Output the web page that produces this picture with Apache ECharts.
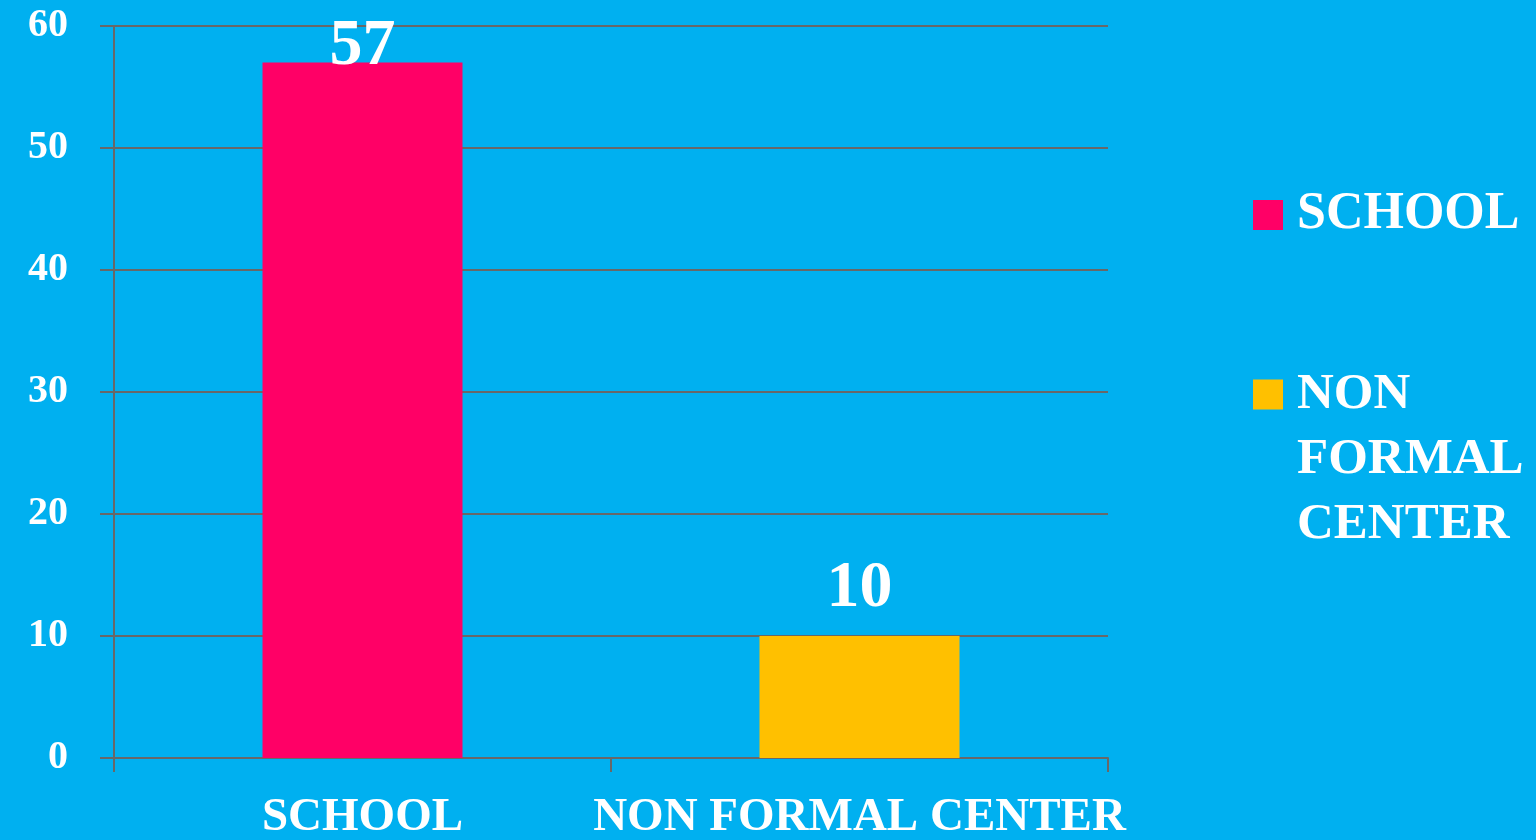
<!DOCTYPE html>
<html>
<head>
<meta charset="utf-8">
<script src="https://cdn.jsdelivr.net/npm/echarts@6/dist/echarts.min.js"></script>
<style>
    html, body { margin: 0; padding: 0; background: #00b0f0; }
    #chart { width: 1536px; height: 840px; }
</style>
</head>
<body>
<div id="chart"></div>
<script>
// categories on the x axis
const categories = ['SCHOOL', 'NON FORMAL CENTER'];
// one series per category, same names as the legend
const seriesNames = ['SCHOOL', 'NON FORMAL CENTER'];
const values = [57, 10];
const colors = ['#ff0066', '#ffc000'];
// y axis ticks
const yMin = 0;
const yMax = 60;
const yStep = 10;

const font = '"Liberation Serif", "DejaVu Serif", serif';
const axisGray = '#686868';

// each bar is its own series, empty in the other category
const series = seriesNames.map((name, i) => ({
    name: name,
    type: 'bar',
    barWidth: 200,
    barGap: '-100%',
    itemStyle: { color: colors[i] },
    data: categories.map((c, j) => (j === i ? values[i] : '-')),
    label: {
        show: true,
        position: 'top',
        distance: i === 0 ? -17 : 14,
        color: '#fff',
        fontFamily: font,
        fontWeight: 'bold',
        fontSize: 66
    }
}));

const legendText = {
    color: '#fff',
    fontFamily: font,
    fontWeight: 'bold',
    fontSize: 51,
    lineHeight: 65,
    padding: [0, 0, 0, 9]
};

// square at the top of a taller box, so it lines up with the first text line
const tallSquare = 'path://M0,0h30v30h-30z M0,159.99 L0.01,160';

const option = {
    backgroundColor: '#00b0f0',
    animation: false,
    grid: {
        left: 114,
        right: 428,
        top: 26,
        bottom: 82,
        outerBoundsMode: 'none'
    },
    legend: [
        {
            data: [seriesNames[0]],
            orient: 'vertical',
            left: 1253,
            top: 183,
            padding: 0,
            icon: 'rect',
            itemWidth: 30,
            itemHeight: 30,
            selectedMode: false,
            textStyle: Object.assign({}, legendText, { fontSize: 52, lineHeight: 64 })
        },
        {
            data: [seriesNames[1]],
            orient: 'vertical',
            left: 1253,
            top: 362,
            padding: 0,
            icon: tallSquare,
            itemWidth: 30,
            itemHeight: 160,
            symbolKeepAspect: true,
            selectedMode: false,
            formatter: (name) => name.split(' ').join('\n'),
            textStyle: legendText
        }
    ],
    xAxis: {
        type: 'category',
        data: categories,
        axisLine: { lineStyle: { color: axisGray, width: 2 } },
        axisTick: { show: true, interval: 0, length: 14, lineStyle: { color: axisGray, width: 2 } },
        axisLabel: {
            interval: 0,
            margin: 36,
            color: '#fff',
            fontFamily: font,
            fontWeight: 'bold',
            fontSize: 47
        }
    },
    yAxis: {
        type: 'value',
        min: yMin,
        max: yMax,
        interval: yStep,
        axisLine: { show: true, lineStyle: { color: axisGray, width: 2 } },
        axisTick: { show: true, length: 14, lineStyle: { color: axisGray, width: 2 } },
        splitLine: { lineStyle: { color: axisGray, width: 2 } },
        axisLabel: {
            margin: 46,
            padding: [8, 0, 0, 0],
            color: '#fff',
            fontFamily: font,
            fontWeight: 'bold',
            fontSize: 40
        }
    },
    series: series
};

let myChart = echarts.init(document.getElementById('chart'));
myChart.setOption(option);
</script>
</body>
</html>
